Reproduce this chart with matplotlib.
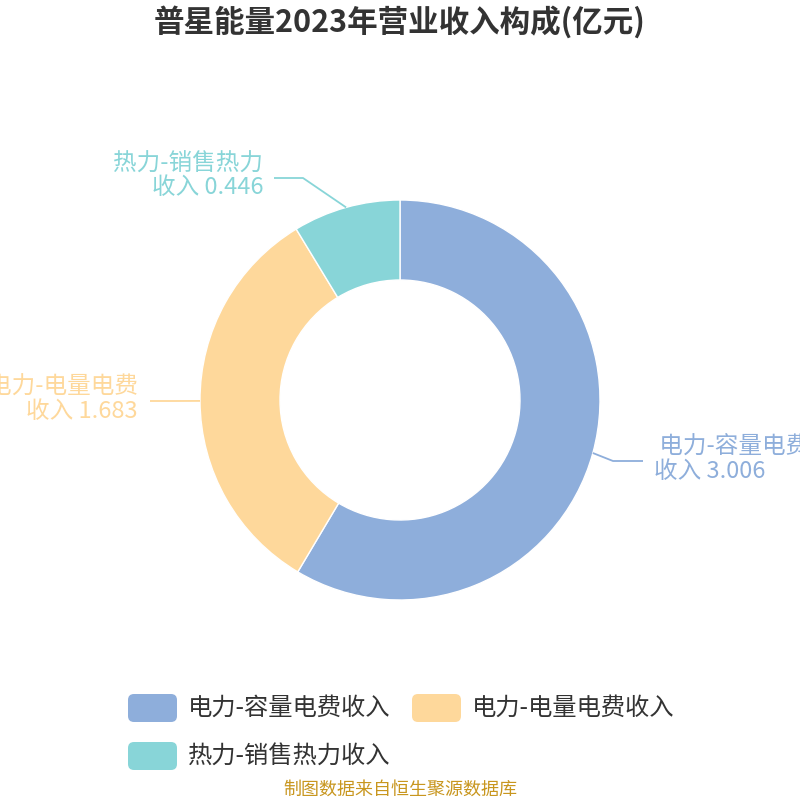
import numpy as np
import matplotlib
matplotlib.use("Agg")
import matplotlib.pyplot as plt
from matplotlib.patches import FancyBboxPatch

plt.rcParams['font.family'] = ['Noto Sans CJK SC', 'DejaVu Sans']

# --- datos ---
title = "普星能量2023年营业收入构成(亿元)"
categories = ["电力-容量电费收入", "电力-电量电费收入", "热力-销售热力收入"]
label_lines = [(" 电力-容量电费", "收入 3.006"), ("电力-电量电费", "收入 1.683"), ("热力-销售热力", "收入 0.446")]
values = [3.006, 1.683, 0.446]
colors = ["#8eaedb", "#fed89b", "#88d5d8"]
source = "制图数据来自恒生聚源数据库"

# --- layout (pixel coords, y down) ---
W = H = 800
cx, cy = 400, 400
r_out, r_in = 200, 120
# elbow and end of leader lines, text anchor
elbows = [(613, 461), (175, 401), (303, 178)]
line_end = [(643, 461), (150, 401), (274, 178)]
text_x = [654, 138, 263]
text_ha = ["left", "right", "right"]

def Y(y):
    return H - y

fig = plt.figure(figsize=(8, 8), dpi=100)
ax = fig.add_axes([0, 0, 1, 1])

wedges, _ = ax.pie(values, colors=colors, startangle=90, counterclock=False,
                   center=(cx, Y(cy)), radius=r_out,
                   wedgeprops=dict(width=r_out - r_in, edgecolor="white", linewidth=1))
ax.set_xlim(0, W)
ax.set_ylim(0, H)
ax.set_aspect("equal")
ax.axis("off")

# --- etiquetas con líneas guía ---
for i, w in enumerate(wedges):
    ang = np.deg2rad((w.theta1 + w.theta2) / 2)
    ax_pt = (cx + r_out * np.cos(ang), cy - r_out * np.sin(ang))
    ex, ey = elbows[i]
    lx, ly = line_end[i]
    ax.plot([ax_pt[0], ex, lx], [Y(ax_pt[1]), Y(ey), Y(ly)], color=colors[i], lw=1.3,
            solid_capstyle="butt")
    l1, l2 = label_lines[i]
    ax.text(text_x[i], Y(ly - 14), l1, ha=text_ha[i], va="center", fontsize=17, color=colors[i])
    ax.text(text_x[i], Y(ly + 10), l2, ha=text_ha[i], va="center", fontsize=17, color=colors[i])

# --- título ---
ax.text(400, Y(22), title, ha="center", va="center", fontsize=22, fontweight="bold", color="#333333")

# --- leyenda ---
leg_pos = [(128, 708), (412, 708), (128, 756)]
for i, cat in enumerate(categories):
    x0, y0 = leg_pos[i]
    box = FancyBboxPatch((x0, Y(y0) - 14), 49, 28, boxstyle="round,pad=0,rounding_size=6",
                         facecolor=colors[i], edgecolor="none")
    ax.add_patch(box)
    ax.text(x0 + 60, Y(y0), cat, ha="left", va="center", fontsize=17.5, color="#333333")

# --- fuente ---
ax.text(400, Y(790), source, ha="center", va="center", fontsize=13, color="#c8961e")

fig.savefig("out.png", dpi=100, facecolor="white")
